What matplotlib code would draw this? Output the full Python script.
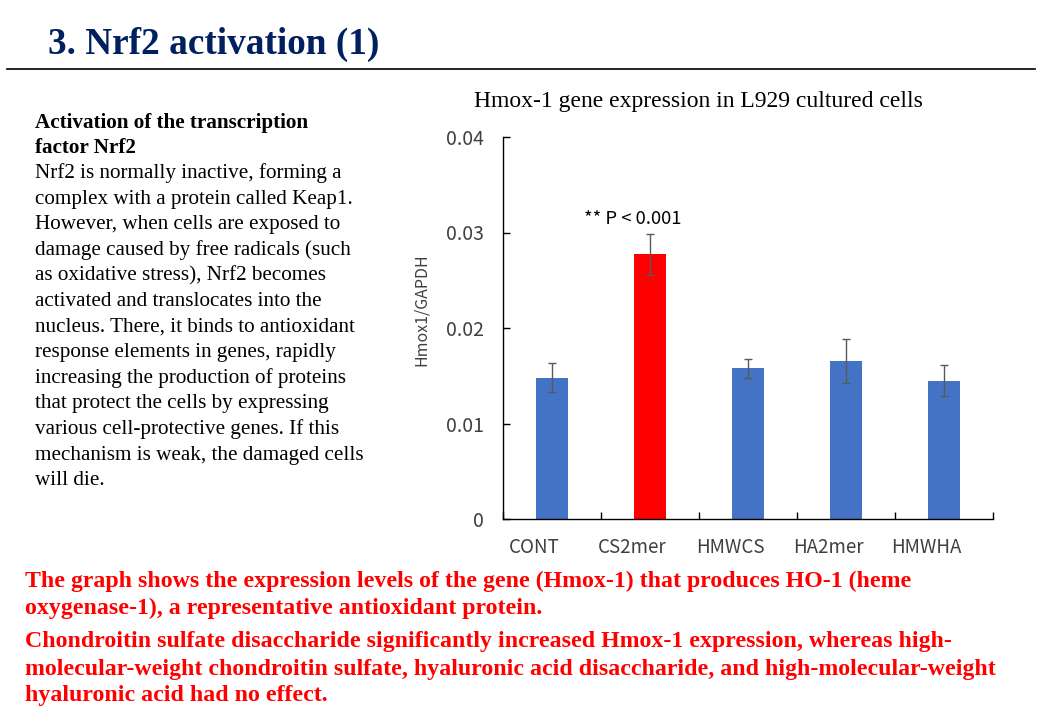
import numpy as np
import matplotlib.pyplot as plt
from matplotlib import transforms

groups = ['CONT', 'CS2mer', 'HMWCS', 'HA2mer', 'HMWHA']
values = [0.0148, 0.0277, 0.0158, 0.0165, 0.0145]
errors = [0.0015, 0.0021, 0.0010, 0.0023, 0.0016]
bar_colors = ['#4472C4', '#FF0000', '#4472C4', '#4472C4', '#4472C4']
yticks = [0, 0.01, 0.02, 0.03, 0.04]
ytick_labels = ['0', '0.01', '0.02', '0.03', '0.04']

left_lines = ['Nrf2 is normally inactive, forming a',
              'complex with a protein called Keap1.',
              'However, when cells are exposed to',
              'damage caused by free radicals (such',
              'as oxidative stress), Nrf2 becomes',
              'activated and translocates into the',
              'nucleus. There, it binds to antioxidant',
              'response elements in genes, rapidly',
              'increasing the production of proteins',
              'that protect the cells by expressing',
              'various cell-protective genes. If this',
              'mechanism is weak, the damaged cells',
              'will die.']
bottom_lines = ['The graph shows the expression levels of the gene (Hmox-1) that produces HO-1 (heme',
                'oxygenase-1), a representative antioxidant protein.',
                'Chondroitin sulfate disaccharide significantly increased Hmox-1 expression, whereas high-',
                'molecular-weight chondroitin sulfate, hyaluronic acid disaccharide, and high-molecular-weight',
                'hyaluronic acid had no effect.']

W, H = 1040, 720
fig = plt.figure(figsize=(10.4, 7.2), dpi=100)
serif = 'Liberation Serif'
sans = 'Noto Sans CJK JP'

# slide heading
fig.text(48 / W, 1 - 44 / H, '3. Nrf2 activation (1)', family=serif, weight='bold',
         fontsize=26.8, color='#002060', va='center', ha='left')
fig.add_artist(plt.Line2D([7 / W, 1035 / W], [1 - 69 / H] * 2, color='black', lw=1.2))

# left description
fig.text(35 / W, 1 - 123 / H, 'Activation of the transcription', family=serif,
         weight='bold', fontsize=15.2, va='center')
fig.text(35 / W, 1 - 148 / H, 'factor Nrf2', family=serif, weight='bold',
         fontsize=15.2, va='center')
for i, line in enumerate(left_lines):
    fig.text(35 / W, 1 - (173.5 + 25.6 * i) / H, line, family=serif,
             fontsize=15.2, va='center')

# bottom red note
bottom_y = [581, 608, 642, 669, 696]
for y, line in zip(bottom_y, bottom_lines):
    fig.text(25 / W, 1 - y / H, line, family=serif, weight='bold', fontsize=17.2,
             color='#FF0000', va='center')

# chart
ax = fig.add_axes([503 / W, 1 - 519 / H, 490 / W, 382 / H])
x = np.arange(len(groups))
ax.bar(x, values, width=0.32, color=bar_colors, zorder=2)
ax.errorbar(x, values, yerr=errors, fmt='none', ecolor='#595959', elinewidth=1,
            capsize=3, capthick=1, zorder=3)
ax.set_xlim(-0.5, len(groups) - 0.5)
ax.set_ylim(0, 0.04)
ax.set_yticks(yticks)
ax.set_yticklabels(ytick_labels, family=sans, fontsize=14, color='#404040')
ax.set_xticks(x)
ax.set_xticklabels(groups, family=sans, fontsize=13.5, color='#404040')
ax.set_xticks(np.arange(len(groups) + 1) - 0.5, minor=True)
ax.tick_params(axis='x', which='major', length=0, pad=13)
ax.tick_params(axis='x', which='minor', direction='in', length=5, width=1)
ax.tick_params(axis='y', direction='in', length=5, width=1, pad=14)
shift = transforms.ScaledTranslation(-18 / 100, 0, fig.dpi_scale_trans)
for lab in ax.get_xticklabels():
    lab.set_transform(lab.get_transform() + shift)
for side in ['top', 'right']:
    ax.spines[side].set_visible(False)
for side in ['left', 'bottom']:
    ax.spines[side].set_linewidth(1)
ax.set_ylabel('Hmox1/GAPDH', family=sans, fontsize=11.5, color='#404040')
ax.yaxis.set_label_coords(-0.15, 0.547)
ax.text(0.82, 0.0314, '** P < 0.001', family=sans, fontsize=13.3, ha='center', va='center')

fig.text(698 / W, 1 - 102 / H, 'Hmox-1 gene expression in L929 cultured cells', family=serif,
         fontsize=17, ha='center', va='center')

fig.savefig('out.png', dpi=100)
